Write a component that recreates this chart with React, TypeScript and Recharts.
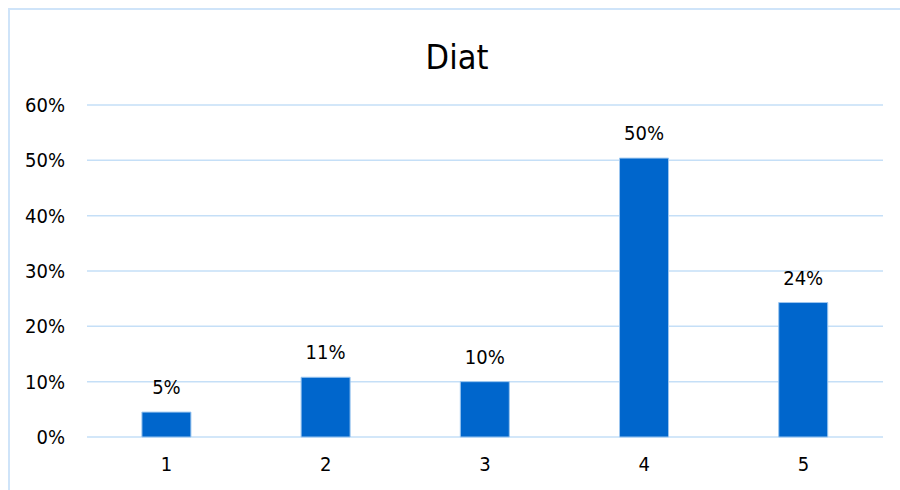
import { BarChart, Bar, XAxis, YAxis, CartesianGrid, LabelList } from 'recharts';

const categories = ['1', '2', '3', '4', '5'];
const shares = [4.5, 10.8, 10.0, 50.4, 24.3];
const yTicks = [0, 10, 20, 30, 40, 50, 60];

const chartData = categories.map((c, i) => ({ cat: c, value: shares[i] }));

const FONT = '"DejaVu Sans Condensed", "DejaVu Sans", sans-serif';

export default function App() {
  return (
    <div style={{ position: 'absolute', left: 0, top: 0, width: 900, height: 490, background: '#fff', fontFamily: FONT, overflow: 'hidden' }}>
      <div style={{ position: 'absolute', left: 8, top: 8, width: 960, height: 560, borderLeft: '2px solid #cfe4f9', borderTop: '2px solid #cfe4f9' }} />
      <BarChart width={900} height={490} data={chartData} barCategoryGap="34.5%"
                margin={{ top: 105, right: 17, bottom: 23, left: 0 }}
                style={{ position: 'absolute', left: 0, top: 0 }}>
        <text x={457} y={69} textAnchor="middle" fontSize={34} fill="#000" fontFamily={FONT}>Diat</text>
        <CartesianGrid vertical={false} stroke="#c5dff7" strokeWidth={1.5} />
        <XAxis dataKey="cat" height={30} axisLine={false} tickLine={false} tickMargin={14}
               tick={{ fontSize: 20, fill: '#000', fontFamily: FONT }} />
        <YAxis width={87} domain={[0, 60]} ticks={yTicks} axisLine={false} tickLine={false} tickMargin={16}
               tickFormatter={(v) => `${v}%`} tick={{ fontSize: 20, fill: '#000', fontFamily: FONT }} />
        <Bar dataKey="value" fill="#0066cc" stroke="#9cc6ef" strokeWidth={1} isAnimationActive={false}>
          <LabelList dataKey="value" position="top" offset={18} fill="#000" fontSize={20} fontFamily={FONT}
                     formatter={(v: any) => `${Math.round(v)}%`} />
        </Bar>
      </BarChart>
    </div>
  );
}
